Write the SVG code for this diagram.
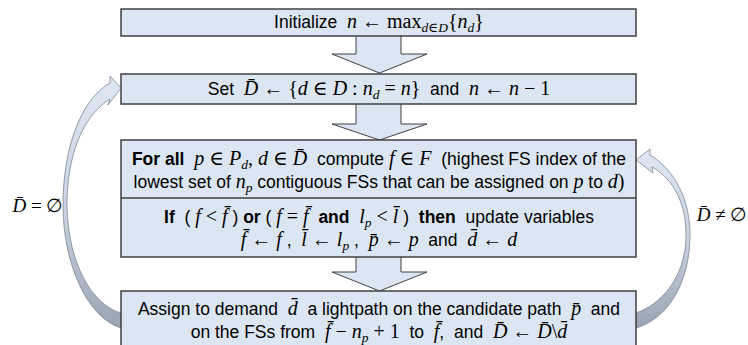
<svg xmlns="http://www.w3.org/2000/svg" width="748" height="345" viewBox="0 0 748 345">
<defs>
<linearGradient id="gl" gradientUnits="userSpaceOnUse" x1="0" y1="75" x2="0" y2="330">
<stop offset="0" stop-color="#dfe7f3"/><stop offset="0.55" stop-color="#c9d2df"/><stop offset="1" stop-color="#98a2b1"/>
</linearGradient>
<linearGradient id="gr" gradientUnits="userSpaceOnUse" x1="0" y1="148" x2="0" y2="330">
<stop offset="0" stop-color="#dfe7f3"/><stop offset="0.5" stop-color="#c9d2df"/><stop offset="1" stop-color="#98a2b1"/>
</linearGradient>
</defs>
<style>
.box{fill:#dce6f2;stroke:#404040;stroke-width:1.5}
.arr{fill:#dce6f2;stroke:#404040;stroke-width:1}
.cur{stroke:#7d8796;stroke-width:0.8}
.t{font-family:"Liberation Sans",Arial,sans-serif;font-size:17.5px;fill:#000}
.m{font-family:"Liberation Serif","DejaVu Serif",serif;font-style:italic;font-size:20px}
.u{font-family:"Liberation Serif","DejaVu Serif",serif;font-style:normal;font-size:20px}
.s{font-size:13.5px}
.b{font-weight:bold}
</style>
<g id="connectors">
<polygon class="arr" points="356,34 401,34 401,54 427,54 379.5,73 332,54 356,54"/>
<polygon class="arr" points="356,102 401,102 401,124 427,124 379.5,140 332,124 356,124"/>
<polygon class="arr" points="356,256 401,256 401,272 427,272 379.5,291 332,272 356,272"/>
<path class="cur" fill="url(#gl)" d="M121,88 L110,76 L110,83 C80,100 63,150 63,205 C63,265 88,318 121,328 L121,313 C95,306 68,268 67,205 C67,160 80,118 110,99 L108,105 Z"/>
<path class="cur" fill="url(#gr)" d="M636,160 L650,149 L650,155 C675,170 690,200 690,235 C690,280 670,318 636,328 L636,313 C660,305 686,278 686,235 C686,205 675,180 652,167 L653,173 Z"/>
<text class="m" x="38" y="212" text-anchor="middle" style="font-size:19px">D̄<tspan class="u" style="font-size:19px"> = ∅</tspan></text>
<text class="m" x="722" y="221" text-anchor="middle" style="font-size:19px">D̄<tspan class="u" style="font-size:19px"> ≠ ∅</tspan></text>
</g>
<g id="n1">
<rect class="box" x="121" y="9" width="515" height="27"/>
<text class="t" x="379" y="28" text-anchor="middle">Initialize&#160; <tspan class="m">n</tspan><tspan class="u"> ← max</tspan><tspan class="m s" dy="4">d</tspan><tspan class="u s">∈</tspan><tspan class="m s">D</tspan><tspan class="u" dy="-4">{</tspan><tspan class="m">n</tspan><tspan class="m s" dy="4">d</tspan><tspan class="u" dy="-4">}</tspan></text>
</g>
<g id="n2">
<rect class="box" x="121" y="74" width="515" height="30"/>
<text class="t" x="379" y="95" text-anchor="middle">Set&#160; <tspan class="m">D̄</tspan><tspan class="u"> ← {</tspan><tspan class="m">d</tspan><tspan class="u"> ∈ </tspan><tspan class="m">D</tspan><tspan class="u"> : </tspan><tspan class="m">n</tspan><tspan class="m s" dy="4">d</tspan><tspan class="u" dy="-4"> = </tspan><tspan class="m">n</tspan><tspan class="u">}</tspan>&#160; and&#160; <tspan class="m">n</tspan><tspan class="u"> ← </tspan><tspan class="m">n</tspan><tspan class="u"> − 1</tspan></text>
</g>
<g id="n3">
<rect class="box" x="121" y="140" width="515" height="117"/>
<line x1="121" y1="198" x2="636" y2="198" stroke="#404040" stroke-width="1.5"/>
<text class="t" x="379" y="165" text-anchor="middle"><tspan class="b">For all</tspan>&#160; <tspan class="m">p</tspan><tspan class="u"> ∈ </tspan><tspan class="m">P</tspan><tspan class="m s" dy="4">d</tspan><tspan class="u" dy="-4">, </tspan><tspan class="m">d</tspan><tspan class="u"> ∈ </tspan><tspan class="m">D̄</tspan>&#160; compute&#160;<tspan class="m">f</tspan><tspan class="u"> ∈ </tspan><tspan class="m">F</tspan>&#160; (highest FS index of the</text>
<text class="t" x="379" y="188" text-anchor="middle">lowest set of <tspan class="m">n</tspan><tspan class="m s" dy="4">p</tspan><tspan dy="-4"> contiguous FSs that can be assigned on </tspan><tspan class="m">p</tspan> to <tspan class="m">d</tspan><tspan class="u">)</tspan></text>
<text class="t" x="379" y="223" text-anchor="middle"><tspan class="b">If</tspan>&#160; (&#160;<tspan class="m">f</tspan><tspan class="u"> &lt; </tspan><tspan class="m">f̄</tspan>&#160;) <tspan class="b">or</tspan> (&#160;<tspan class="m">f</tspan><tspan class="u"> = </tspan><tspan class="m">f̄</tspan>&#160; <tspan class="b">and</tspan>&#160; <tspan class="m">l</tspan><tspan class="m s" dy="4">p</tspan><tspan class="u" dy="-4"> &lt; </tspan><tspan class="m">l̄</tspan>&#160;)&#160; <tspan class="b">then</tspan>&#160; update variables</text>
<text class="t" x="379" y="246" text-anchor="middle"><tspan class="m">f̄</tspan><tspan class="u"> ← </tspan><tspan class="m">f</tspan> ,&#160; <tspan class="m">l̄</tspan><tspan class="u"> ← </tspan><tspan class="m">l</tspan><tspan class="m s" dy="4">p</tspan><tspan dy="-4"> ,&#160; </tspan><tspan class="m">p̄</tspan><tspan class="u"> ← </tspan><tspan class="m">p</tspan>&#160; and&#160; <tspan class="m">d̄</tspan><tspan class="u"> ← </tspan><tspan class="m">d</tspan></text>
</g>
<g id="n4">
<rect class="box" x="121" y="291" width="515" height="60"/>
<text class="t" x="379" y="315" text-anchor="middle">Assign to demand&#160; <tspan class="m">d̄</tspan>&#160; a lightpath on the candidate path&#160; <tspan class="m">p̄</tspan>&#160; and</text>
<text class="t" x="379" y="338" text-anchor="middle">on the FSs from&#160; <tspan class="m">f̄</tspan><tspan class="u"> − </tspan><tspan class="m">n</tspan><tspan class="m s" dy="4">p</tspan><tspan class="u" dy="-4"> + 1</tspan>&#160; to&#160; <tspan class="m">f̄</tspan>,&#160; and&#160; <tspan class="m">D̄</tspan><tspan class="u"> ← </tspan><tspan class="m">D̄</tspan><tspan class="u">\</tspan><tspan class="m">d̄</tspan></text>
</g>
</svg>
